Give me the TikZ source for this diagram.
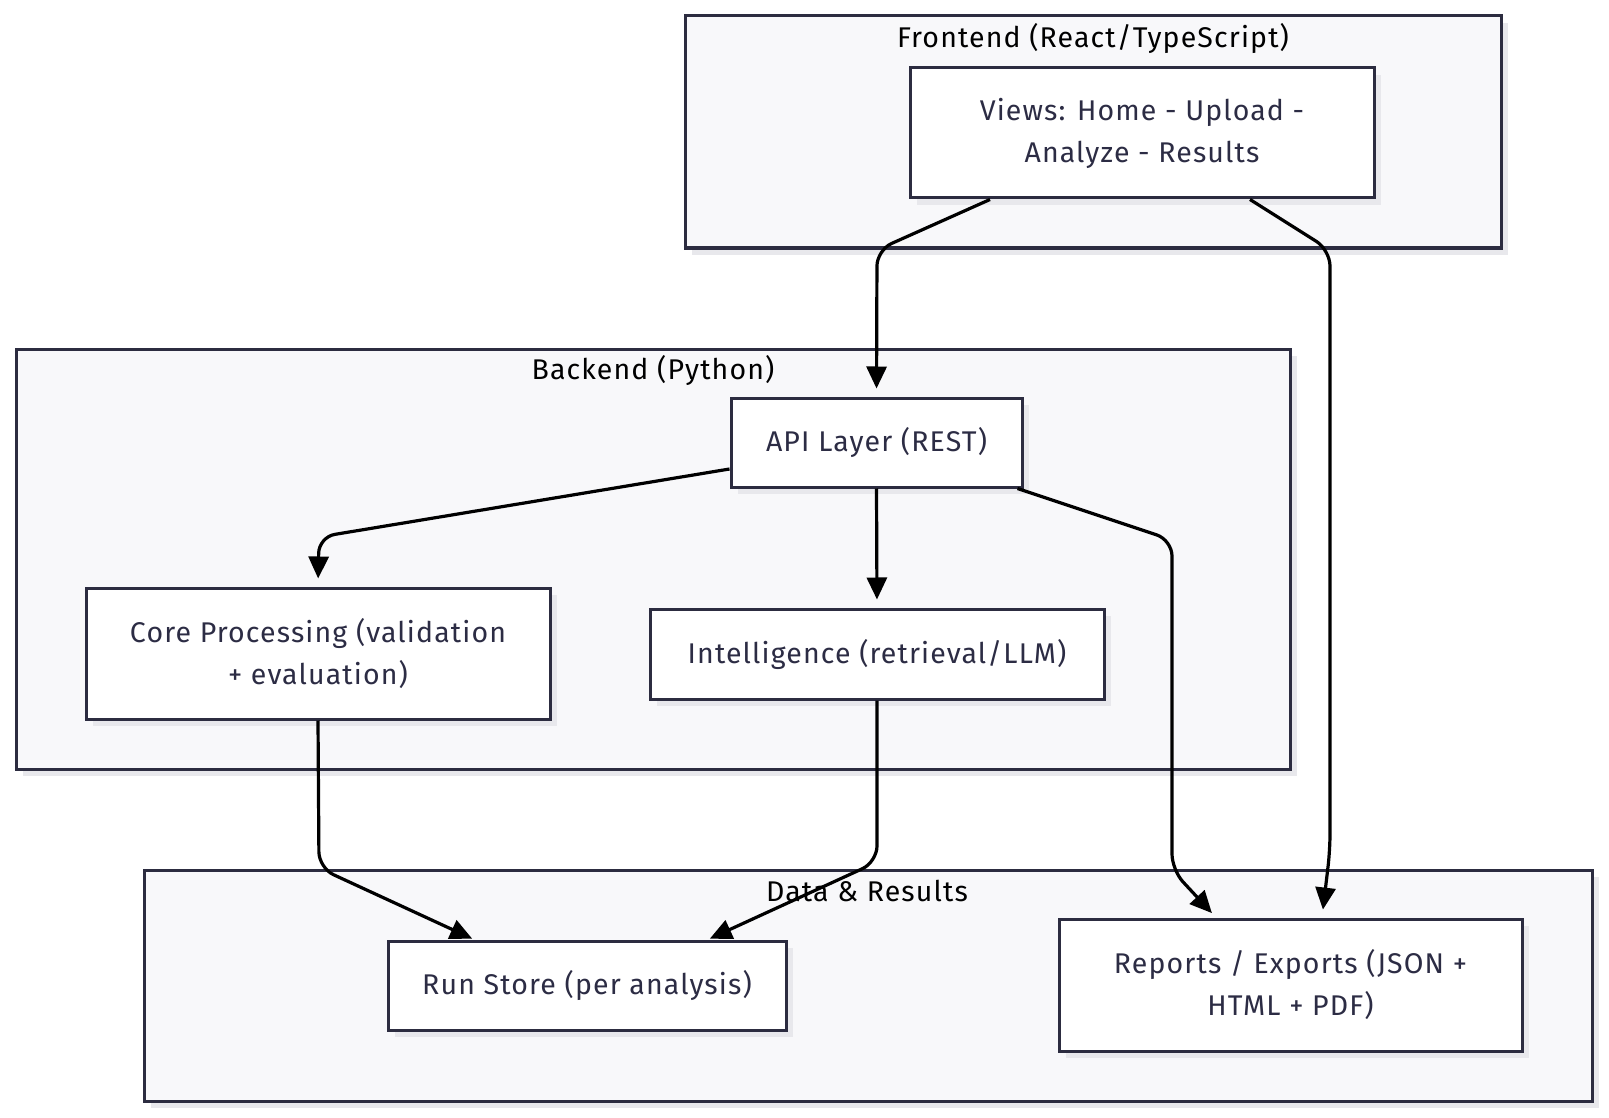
\documentclass[tikz,border=0pt]{standalone}
\usepackage{fontspec}
\setmainfont{Fira Sans}[LetterSpace=4]
\usetikzlibrary{arrows.meta,shadows}
\definecolor{bordercol}{RGB}{44,44,64}
\definecolor{clusterfill}{RGB}{248,248,250}
\definecolor{shadowcol}{RGB}{232,232,236}
\definecolor{textcol}{RGB}{44,44,68}
\tikzset{
  cluster/.style={draw=bordercol, line width=3pt, fill=clusterfill,
    drop shadow={shadow xshift=7pt, shadow yshift=-7pt, fill=shadowcol, opacity=1}},
  box/.style={draw=bordercol, line width=3pt, fill=white, text=textcol, align=center,
    font=\fontsize{28.5}{42}\selectfont, inner sep=0pt,
    drop shadow={shadow xshift=7pt, shadow yshift=-7pt, fill=shadowcol, opacity=1}},
  clabel/.style={text=black, font=\fontsize{28.5}{32}\selectfont, inner sep=0pt},
  conn/.style={draw=black, line width=3.2pt, rounded corners=16pt, shorten >=2pt,
    -{Triangle[length=22pt,width=20pt]}}
}
\begin{document}
\begin{tikzpicture}[x=1pt,y=-1pt]
\useasboundingbox (0,0) rectangle (1609,1118);
\fill[white] (0,0) rectangle (1609,1118);
% clusters
\draw[cluster] (685,16) rectangle (1501,248);
\draw[cluster] (16,349) rectangle (1290,769);
\draw[cluster] (144,870) rectangle (1592,1101);
\node[clabel] (lfront) at (1093,38) {Frontend (React/TypeScript)};
\node[clabel] (lback) at (653,370) {Backend (Python)};
\node[clabel] (ldata) at (867,891) {Data \& Results};
% nodes
\node[box, minimum width=464pt, minimum height=130pt] (views) at (1142,133) {Views: Home - Upload -\\Analyze - Results};
\node[box, minimum width=291pt, minimum height=89pt] (api) at (876.5,442.5) {API Layer (REST)};
\node[box, minimum width=464pt, minimum height=131pt] (core) at (318,653.5) {Core Processing (validation\\+ evaluation)};
\node[box, minimum width=454pt, minimum height=90pt] (intel) at (877,654) {Intelligence (retrieval/LLM)};
\node[box, minimum width=398pt, minimum height=89pt] (run) at (587,985.5) {Run Store (per analysis)};
\node[box, minimum width=463pt, minimum height=132pt] (rep) at (1290.5,985) {Reports / Exports (JSON +\\HTML + PDF)};
% connectors
\draw[conn, shorten >=8pt] ([xshift=-152pt]views.south) -- (877,250) -- (api.north);
\draw[conn, shorten >=8pt] ([xshift=108pt]views.south) -- (1330,250) -- (1330,850) -- ([xshift=31.5pt]rep.north);
\draw[conn, shorten >=8pt] ([yshift=-26.5pt]api.west) -- (319,537) -- (core.north);
\draw[conn, shorten >=8pt] (api.south) -- (intel.north);
\draw[conn, shorten >=6pt] ([xshift=-6pt]api.south east) -- (1172,540) -- (1172,870) -- ([xshift=-74.5pt]rep.north);
\draw[conn, shorten >=2pt] (core.south) -- (319,868) -- ([xshift=-113pt]run.north);
\draw[conn, shorten >=2pt] (intel.south) -- (877,862) -- ([xshift=121pt]run.north);
\end{tikzpicture}
\end{document}
